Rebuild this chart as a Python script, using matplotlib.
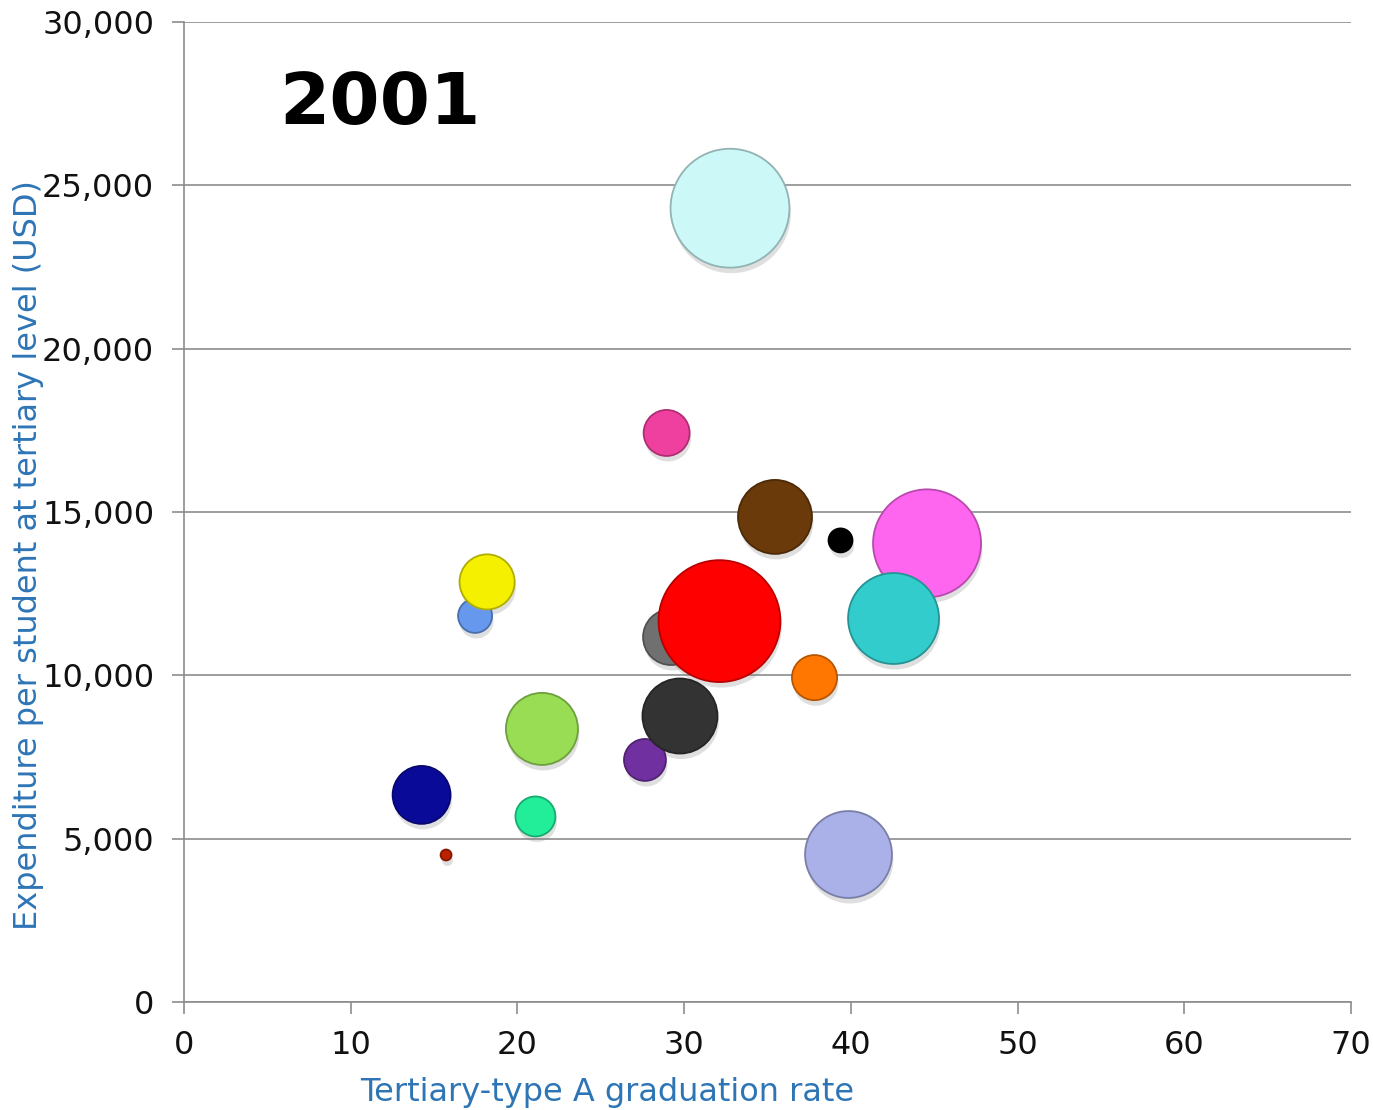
import numpy as np
import matplotlib
matplotlib.use("Agg")
import matplotlib.pyplot as plt
import matplotlib.colors as mcolors
import matplotlib.patheffects as pe

# Bubble data (year 2001)
grad_rate = [32.75, 28.95, 35.45, 39.38, 44.57, 42.56, 17.46, 18.18, 29.21,
             32.12, 37.82, 27.65, 29.75, 21.47, 14.25, 21.08, 15.72, 39.86]
expenditure = [24300, 17420, 14850, 14130, 14040, 11740, 11820, 12860, 11170,
               11660, 9930, 7410, 8755, 8360, 6340, 5680, 4500, 4515]
bubble_size = [35.4, 5.3, 13.7, 1.44, 29.2, 20.7, 2.9, 7.6, 7.8,
               37.2, 5.1, 4.4, 14.1, 13.0, 8.4, 4.0, 0.3, 18.9]
bubble_colors = ['#CCF8F8', '#F0409F', '#6B3A0A', '#000000', '#FF66F0', '#33CCCC',
                 '#6699EE', '#F5F000', '#707070', '#FF0000', '#FF7700', '#7030A0',
                 '#333333', '#99DD55', '#0A0A99', '#22EE99', '#BB2200', '#AAB0E8']

year_label = "2001"
x_ticks = [0, 10, 20, 30, 40, 50, 60, 70]
y_ticks = [0, 5000, 10000, 15000, 20000, 25000, 30000]

plt.rcParams['font.family'] = ['DejaVu Sans']

fig = plt.figure(figsize=(13.73, 11.10), dpi=100)
ax = fig.add_axes([184 / 1373, 1 - 1002 / 1110, 1167 / 1373, 980 / 1110])

# darker rim for each bubble
edge_colors = []
for c in bubble_colors:
    r, g, b = mcolors.to_rgb(c)
    edge_colors.append((r * 0.72, g * 0.72, b * 0.72))

sizes = np.array(bubble_size) * 207.0
sc = ax.scatter(grad_rate, expenditure, s=sizes, c=bubble_colors,
                edgecolors=edge_colors, linewidths=1.3, zorder=3)
sc.set_path_effects([pe.SimplePatchShadow(offset=(1, -4), shadow_rgbFace='#808080', alpha=0.25),
                     pe.Normal()])

ax.set_xlim(0, 70)
ax.set_ylim(0, 30000)
ax.set_xticks(x_ticks)
ax.set_yticks(y_ticks)
ax.set_yticklabels([f"{v:,}" for v in y_ticks])

ax.grid(axis='y', color='#8c8c8c', linewidth=1.2, zorder=0)
ax.set_axisbelow(True)
for side in ['top', 'right']:
    ax.spines[side].set_visible(False)
for side in ['left', 'bottom']:
    ax.spines[side].set_color('#8c8c8c')
    ax.spines[side].set_linewidth(1.2)

ax.tick_params(axis='both', direction='out', length=8.5, width=1.2, color='#8c8c8c',
               labelsize=23, labelcolor='#111111')
ax.tick_params(axis='y', pad=13)
ax.tick_params(axis='x', pad=12)

ax.set_xlabel("Tertiary-type A graduation rate", fontsize=23, color='#2E75B6')
ax.xaxis.set_label_coords(0.3625, -0.077)
ax.set_ylabel("Expenditure per student at tertiary level (USD)", fontsize=23, color='#2E75B6')
ax.yaxis.set_label_coords(-0.12, 0.456)

ax.text(0.082, 0.916, year_label, transform=ax.transAxes, fontsize=52,
        fontweight='bold', ha='left', va='center', color='black')

fig.savefig("out.png", dpi=100)
